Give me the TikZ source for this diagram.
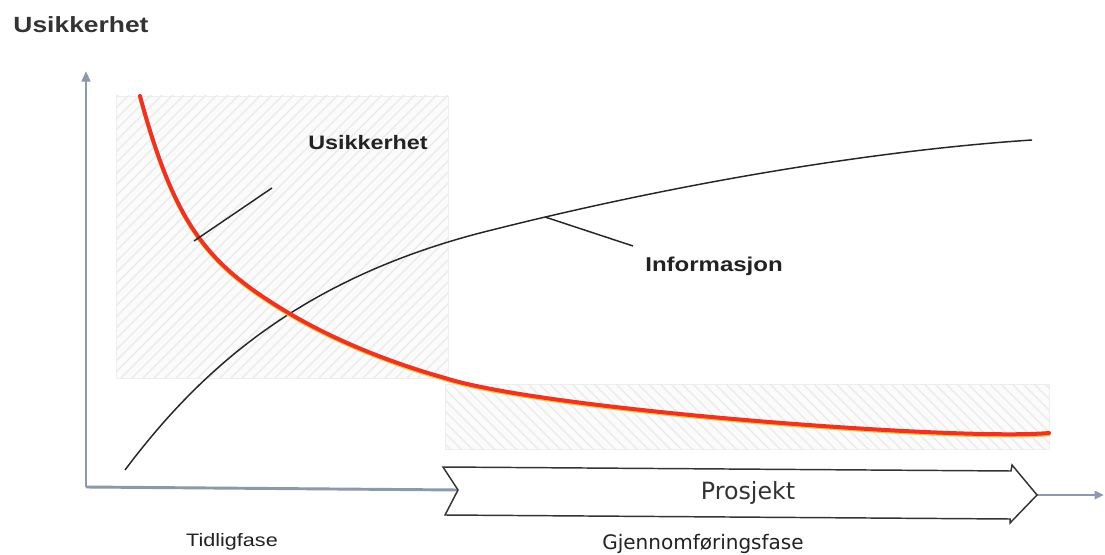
\documentclass[tikz,border=0pt]{standalone}
\usepackage{fontspec}
\setmainfont{Liberation Sans}[FakeStretch=1.2]
\newfontfamily\prfont{DejaVu Sans}
\usetikzlibrary{arrows.meta}
\definecolor{axisc}{RGB}{140,152,172}
\definecolor{hatchc}{RGB}{234,234,234}
\definecolor{hatchbg}{RGB}{251,251,251}
\definecolor{redc}{RGB}{236,52,38}
\definecolor{yelc}{RGB}{248,196,60}
\definecolor{txt}{RGB}{34,34,34}
\begin{document}
\begin{tikzpicture}[x=0.75pt,y=-0.75pt,
  axis/.style={line width=2.2pt, draw=axisc},
  hatchline/.style={draw=hatchc, line width=0.9pt},
  hatchbox/.style={fill=hatchbg, draw=hatchc!80, line width=0.4pt},
  curveblack/.style={draw=black!85, line width=1.1pt},
  curvered/.style={draw=redc, line width=3pt, line cap=round},
  curveyel/.style={draw=yelc, line width=2.6pt, line cap=round},
  ptr/.style={draw=black!85, line width=1.1pt},
  lab/.style={inner sep=0pt, text=txt},
  chev/.style={draw=black!80, fill=white, line width=1.1pt, line join=miter}]
\useasboundingbox (0,0) rectangle (1105,555);
\fill[white] (0,0) rectangle (1105,555);

% hatched areas
\fill[hatchbox] (116,96) rectangle (448,378);
\begin{scope}
\clip (116,96) rectangle (448,378);
\foreach \i in {-200,-189,...,460} \draw[hatchline] (\i,380) -- ++(300,-300);
\end{scope}
\fill[hatchbox] (445,384) rectangle (1049,449);
\begin{scope}
\clip (445,384) rectangle (1049,449);
\foreach \i in {370,381,...,1060} \draw[hatchline] (\i,380) -- ++(75,75);
\end{scope}

% axes
\coordinate (o) at (86,487);
\coordinate (ytip) at (86,71);
\coordinate (notch) at (458,490);
\coordinate (tip) at (1037,495);
\coordinate (xend) at (1104,495);
\draw[axis,-{Triangle[length=8pt,width=6.5pt]}] (o) -- (ytip);
\draw[axis] (o) -- (notch);
\draw[axis,-{Triangle[length=7pt,width=6pt]}] (tip) -- (xend);

% information curve
\draw[curveblack] (125,470) .. controls (200,370) and (300,280) .. (480,233)
  .. controls (680,182) and (880,150) .. (1032,140);

% uncertainty curve
\begin{scope}[yshift=-1.1pt]
\draw[curveyel] (140,96) .. controls (175,225) and (207,264) .. (287,312)
  .. controls (337,342) and (395,364) .. (445,378)
  .. controls (545,410) and (960,441) .. (1049,433);
\end{scope}
\draw[curvered] (140,96) .. controls (175,225) and (207,264) .. (287,312)
  .. controls (337,342) and (395,364) .. (445,378)
  .. controls (545,410) and (960,441) .. (1049,433);

% pointers and labels
\coordinate (u1) at (194,241);
\coordinate (u2) at (272,188);
\draw[ptr] (u1) -- (u2);
\node[lab, font=\bfseries\fontsize{14.6}{16}\selectfont] (ulab) at (368,143) {Usikkerhet};
\coordinate (i1) at (545,217);
\coordinate (i2) at (633,246);
\draw[ptr] (i1) -- (i2);
\node[lab, font=\bfseries\fontsize{15}{17}\selectfont] (ilab) at (714,266) {Informasjon};

% project chevron
\draw[chev] (443,467) -- (1011,471) -- (1012,465) -- (tip) -- (1010,523) -- (1010,519) -- (445,515) -- (notch) -- cycle;
\node[lab, text=black!80, font=\prfont\fontsize{17.8}{20}\selectfont] (pr) at (748,493) {Prosjekt};

% texts
\node[lab, text=black!80, font=\bfseries\fontsize{16.5}{18}\selectfont] (title) at (81,25) {Usikkerhet};
\node[lab, font=\fontsize{13.5}{15}\selectfont] (tf) at (232,542) {Tidligfase};
\node[lab, font=\prfont\fontsize{15}{17}\selectfont] (gf) at (703,544) {Gjennomføringsfase};
\end{tikzpicture}
\end{document}
